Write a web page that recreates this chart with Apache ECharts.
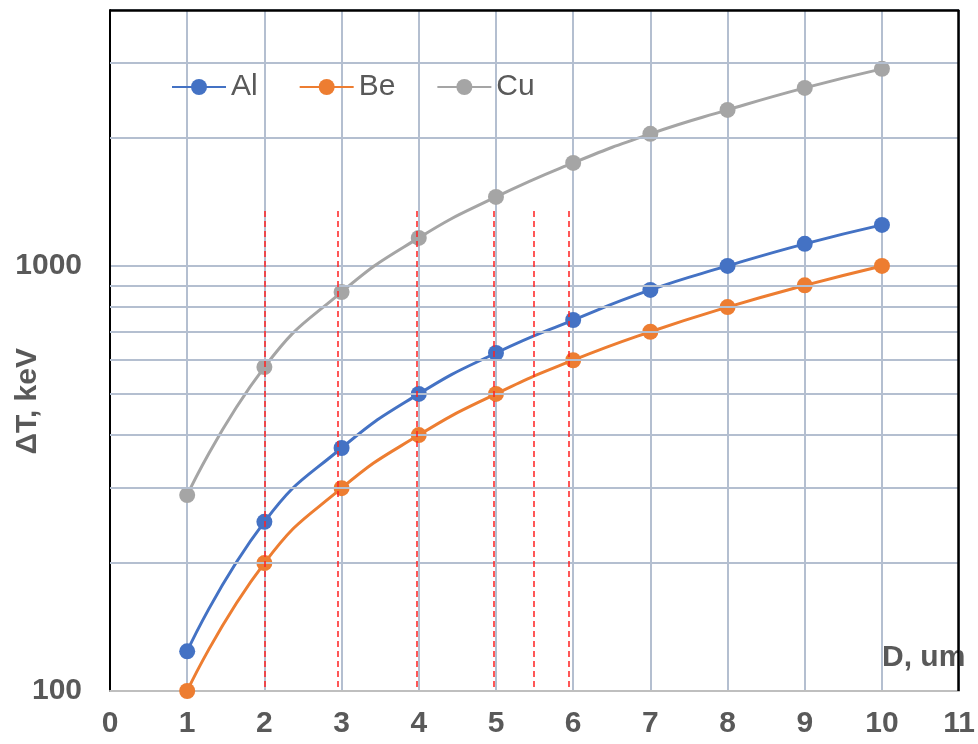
<!DOCTYPE html>
<html><head><meta charset="utf-8">
<script src="https://cdn.jsdelivr.net/npm/echarts@6/dist/echarts.min.js"></script>
<style>html,body{margin:0;padding:0;background:#fff}#c{width:978px;height:744px}</style>
</head><body><div id="c"></div>
<script>
const xValues = [1,2,3,4,5,6,7,8,9,10];
const alValues = [124,250,373,500,624,746,878,1000,1127,1249];
const beValues = [100,200,300,400,500,600,700,800,900,1000];
const cuValues = [289,578,868,1164,1453,1747,2045,2328,2623,2908];
const minorGridValues = [200,300,400,500,600,700,800,900,2000,3000];
const redLineX = [2.0,2.95,3.98,4.97,5.49,5.94];
const redLineTop = 1346;
const xMin = 0, xMax = 11;
const yMin = 100, yMax = 4000;
const frameTop = 3990;
const frameRight = 10.995;

const grayGrid = '#b4bfd0';
const textColor = '#595959';
const font = 'Liberation Sans, Arial';
const pair = (vals) => xValues.map((x,i)=>[x, vals[i]]);

const chart = echarts.init(document.getElementById('c'), null, {renderer:'canvas'});
chart.setOption({
  animation:false,
  backgroundColor:'#fff',
  grid:{left:110, right:15, top:10, bottom:53},
  legend:{
    left:166, top:67, itemWidth:54, itemHeight:20, itemGap:41,
    textStyle:{fontSize:30, color:textColor, fontFamily:font},
    data:['Al','Be','Cu']
  },
  xAxis:{
    type:'value', min:xMin, max:xMax, interval:1,
    axisLine:{show:true, lineStyle:{color:'#bfbfbf', width:2}},
    axisTick:{show:false},
    axisLabel:{fontSize:30, fontWeight:'bold', color:textColor, margin:18, fontFamily:font},
    splitLine:{show:true, lineStyle:{color:grayGrid, width:2}}
  },
  yAxis:{
    type:'log', logBase:10, min:yMin, max:yMax,
    axisLine:{show:true, lineStyle:{color:'#000', width:2}},
    axisTick:{show:false},
    axisLabel:{fontSize:30, fontWeight:'bold', color:textColor, margin:28, fontFamily:font,
      formatter:(v)=> (Math.abs(Math.log10(v)-Math.round(Math.log10(v)))<1e-6 ? String(Math.round(v)) : '')},
    splitLine:{show:true, lineStyle:{color:grayGrid, width:2}}
  },
  graphic:[
    {type:'text', left:13, top:348, rotation:Math.PI/2, style:{text:'ΔT, keV', fontSize:30, fontWeight:'bold', fill:textColor, fontFamily:font}},
    {type:'text', left:882, top:643, style:{text:'D, um', fontSize:30, fontWeight:'bold', fill:textColor, fontFamily:font}}
  ],
  series:[
    {type:'line', name:'grid', data:[], z:0, silent:true,
      markLine:{silent:true, symbol:'none', label:{show:false}, animation:false,
        lineStyle:{color:grayGrid, width:2, type:'solid'},
        data: minorGridValues.map(v=>({yAxis:v}))}},
    {type:'line', name:'red', data:[], z:1, silent:true,
      markLine:{silent:true, symbol:'none', label:{show:false}, animation:false,
        lineStyle:{color:'#ff2020', width:1.5, type:[6,4]},
        data: redLineX.map(x=>[{coord:[x, redLineTop]},{coord:[x, yMin]}])}},
    {type:'line', name:'border', data:[], z:5, silent:true,
      markLine:{silent:true, symbol:'none', label:{show:false}, animation:false,
        lineStyle:{color:'#000', width:2.5, type:'solid'},
        data: [{yAxis:frameTop},{xAxis:frameRight}]}},
    {type:'line', name:'Al', data:pair(alValues), smooth:true, symbol:'circle', symbolSize:16,
      itemStyle:{color:'#4472c4'}, lineStyle:{width:3, color:'#4472c4'}, z:3},
    {type:'line', name:'Be', data:pair(beValues), smooth:true, symbol:'circle', symbolSize:16,
      itemStyle:{color:'#ed7d31'}, lineStyle:{width:3, color:'#ed7d31'}, z:3},
    {type:'line', name:'Cu', data:pair(cuValues), smooth:true, symbol:'circle', symbolSize:16,
      itemStyle:{color:'#a5a5a5'}, lineStyle:{width:3, color:'#a5a5a5'}, z:3}
  ]
});
</script></body></html>
